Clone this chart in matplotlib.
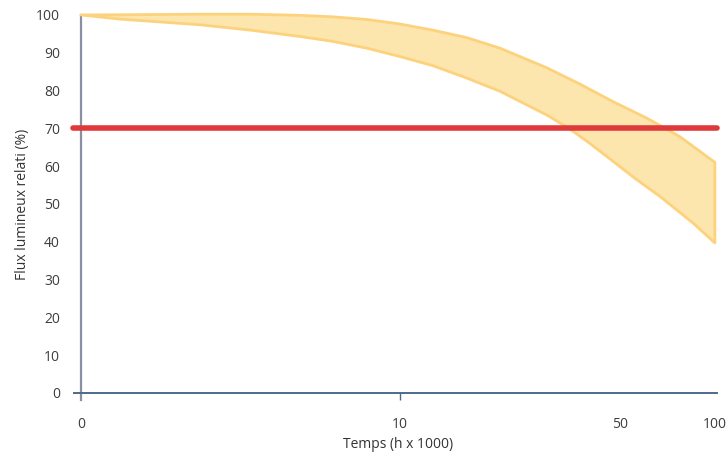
import numpy as np
import matplotlib.pyplot as plt

plt.rcParams['font.family'] = ['Open Sans', 'DejaVu Sans']

# temps (h x 1000) and relative luminous flux (%) - band limits
t_upper = [0.97, 1.61, 2.32, 3.34, 4.82, 6.13, 7.86, 10, 12.7, 16.3, 20.8,
           29.3, 37.3, 47.4, 60.8, 77.4, 100]
flux_upper = [100, 100.1, 100.2, 100.2, 99.9, 99.5, 98.8, 97.6, 96.0, 94.0, 91.2,
              86.0, 81.7, 77.1, 72.7, 67.8, 61.0]
t_lower = [0.97, 1.29, 2.32, 3.34, 4.82, 6.13, 7.86, 10, 12.7, 16.3, 20.8,
           29.3, 34.4, 40.1, 46.3, 55.7, 66.9, 85.1, 100]
flux_lower = [100, 98.9, 97.4, 96.0, 94.3, 93.0, 91.2, 89.0, 86.6, 83.3, 79.8,
              73.5, 70.0, 66.0, 62.0, 56.8, 52.0, 45.0, 39.7]
threshold = 70

xticks = [0.97, 10, 50, 100]
xticklabels = ['0', '10', '50', '100']
yticks = np.arange(0, 101, 10)

fig = plt.figure(figsize=(7.28, 4.53), dpi=100)
ax = fig.add_axes([0.111, 0.1325, 0.871, 0.8345])
ax.set_xscale('log')
ax.set_xlim(0.97, 100)
ax.set_ylim(0, 100)

# band
xs = np.concatenate([t_upper, t_lower[::-1]])
ys = np.concatenate([flux_upper, flux_lower[::-1]])
ax.fill(xs, ys, facecolor='#fde5ae', edgecolor='#fdd27c', linewidth=2,
        joinstyle='round', clip_on=False, zorder=2)

# 70% threshold
trans = ax.get_yaxis_transform()
ax.plot([-0.012, 1.004], [threshold, threshold], transform=trans, color='#e0393b',
        linewidth=4, solid_capstyle='round', clip_on=False, zorder=3)

for s in ax.spines.values():
    s.set_visible(False)
ax.plot([0, 0], [-0.018, 1.0], transform=ax.transAxes, color='#8a90a2',
        linewidth=1.6, clip_on=False, zorder=1)
ax.plot([-0.011, 1.004], [0, 0], transform=ax.transAxes, color='#4d6a8c',
        linewidth=1.4, clip_on=False, zorder=1)

ax.set_xticks(xticks)
ax.set_xticklabels(xticklabels)
ax.xaxis.set_minor_locator(plt.NullLocator())
ax.set_yticks(yticks)
ax.tick_params(axis='y', length=0, pad=15, labelsize=10, labelcolor='#3d3d3d')
ax.tick_params(axis='x', length=5, width=1, color='#4d6a8c', direction='out',
               pad=12, labelsize=10, labelcolor='#3d3d3d')
for i, tk in enumerate(ax.xaxis.get_major_ticks()):
    if xticklabels[i] != '10':
        tk.tick1line.set_visible(False)

ax.set_xlabel('Temps (h x 1000)', fontsize=10, color='#333333', labelpad=4)
ax.set_ylabel('Flux lumineux relati (%)', fontsize=10, color='#333333', labelpad=4)

fig.savefig('out.png', dpi=100)
